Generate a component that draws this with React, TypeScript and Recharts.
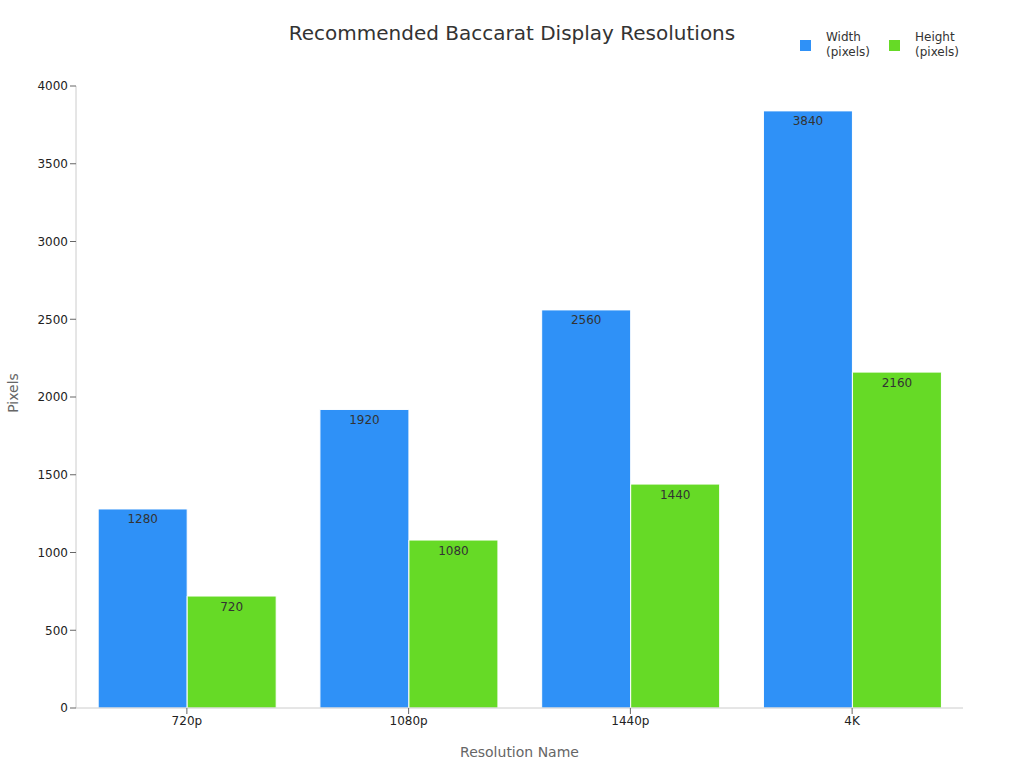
import React from 'react';
import { BarChart, Bar, XAxis, YAxis, LabelList } from 'recharts';

const resolutions = ['720p', '1080p', '1440p', '4K'];
const widthValues = [1280, 1920, 2560, 3840];
const heightValues = [720, 1080, 1440, 2160];
const yTicks = [0, 500, 1000, 1500, 2000, 2500, 3000, 3500, 4000];

const BLUE = '#2f91f7';
const GREEN = '#66da26';
const FONT = '"DejaVu Sans", sans-serif';

const data = resolutions.map((name, i) => ({
    name,
    width: widthValues[i],
    height: heightValues[i],
}));

const legendItems = [
    { label: ['Width', '(pixels)'], color: BLUE, x: 800 },
    { label: ['Height', '(pixels)'], color: GREEN, x: 889 },
];

const App: React.FC = () => {
    return (
        <div style={{ position: 'absolute', left: 0, top: 0, width: 1024, height: 768, background: '#fff', fontFamily: FONT }}>
            <div style={{ position: 'absolute', left: 0, width: 1024, top: 21, textAlign: 'center', fontSize: 20, color: '#333' }}>
                Recommended Baccarat Display Resolutions
            </div>
            {legendItems.map(item => (
                <div key={item.label[0]} style={{ position: 'absolute', left: item.x, top: 30, display: 'flex', alignItems: 'center' }}>
                    <div style={{ width: 11, height: 11, background: item.color, marginRight: 15 }} />
                    <div style={{ fontSize: 12, lineHeight: '15px', color: '#333' }}>
                        {item.label[0]}<br />{item.label[1]}
                    </div>
                </div>
            ))}
            {/* y-axis title, rotated */}
            <div style={{ position: 'absolute', left: 13, top: 393, transform: 'translate(-50%, -50%) rotate(-90deg)', fontSize: 14, color: '#666', whiteSpace: 'nowrap' }}>
                Pixels
            </div>
            <BarChart
                width={1024}
                height={768}
                data={data}
                margin={{ top: 86, right: 61, left: 0, bottom: 0 }}
                barCategoryGap="10%"
                barGap={0}
            >
                <XAxis
                    dataKey="name"
                    height={60}
                    stroke="#ccc"
                    tick={{ fill: '#222', fontSize: 12, fontFamily: FONT }}
                    tickLine={{ stroke: '#666' }}
                    label={{ value: 'Resolution Name', position: 'insideBottom', offset: 11, fill: '#666', fontSize: 14, fontFamily: FONT }}
                />
                <YAxis
                    width={76}
                    domain={[0, 4000]}
                    ticks={yTicks}
                    stroke="#ccc"
                    tick={{ fill: '#222', fontSize: 12, fontFamily: FONT }}
                    tickLine={{ stroke: '#666' }}
                />
                <Bar dataKey="width" fill={BLUE} stroke="#fff" strokeWidth={1} isAnimationActive={false}>
                    <LabelList dataKey="width" position="insideTop" offset={6} fill="#333" fontSize={12} fontFamily={FONT} />
                </Bar>
                <Bar dataKey="height" fill={GREEN} stroke="#fff" strokeWidth={1} isAnimationActive={false}>
                    <LabelList dataKey="height" position="insideTop" offset={6} fill="#333" fontSize={12} fontFamily={FONT} />
                </Bar>
            </BarChart>
        </div>
    );
};

export default App;
